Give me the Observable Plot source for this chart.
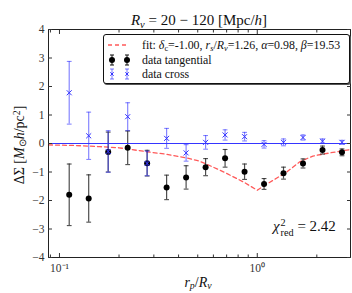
<!DOCTYPE html>
<html><head><meta charset="utf-8">
<script src="https://cdn.jsdelivr.net/npm/d3@7"></script>
<script src="https://cdn.jsdelivr.net/npm/@observablehq/plot@0.6"></script>
<style>
body{margin:0;background:#fff;}
#wrap{position:relative;width:352px;height:293px;font-family:"Liberation Serif",serif;color:#111;}
.ov{position:absolute;white-space:nowrap;line-height:1;}
.ov sub{font-size:70%;vertical-align:-0.25em;line-height:0;}
.ov sup{font-size:70%;vertical-align:0.45em;line-height:0;}
.ss{display:inline-flex;flex-direction:column;font-size:68%;line-height:0.95;vertical-align:middle;margin-left:1px;}
#legend{position:absolute;left:103px;top:34px;width:245px;height:48px;border:1px solid #111;border-radius:3px;background:#fff;box-shadow:1px 1px 0 #555;}
.row{position:absolute;left:0;height:14px;display:flex;align-items:center;font-size:11.9px;white-space:nowrap;}
.row sub{font-size:70%;vertical-align:-0.25em;line-height:0;}
.row svg{margin-right:8px;}
</style></head><body><div id="wrap"></div>
<script>
// radial bins r_p / R_v
const rp = [0.1120, 0.1405, 0.1763, 0.2212, 0.2774, 0.3480, 0.4367, 0.5479, 0.6874, 0.8624, 1.082, 1.357, 1.703, 2.137, 2.681];
// tangential shear profile and errors
const tang    = [-1.80, -1.93, -0.30, -0.15, -0.69, -1.54, -1.19, -0.83, -0.52, -0.99, -1.42, -1.04, -0.70, -0.23, -0.31];
const tangErr = [ 1.08,  0.83,  0.70,  0.59,  0.45,  0.43,  0.41,  0.30,  0.31,  0.27,  0.19,  0.21,  0.16,  0.14,  0.12];
// cross shear profile and errors
const cross    = [1.78, 0.27, -0.28, 0.94, -0.70, 0.18, -0.33, 0.04, 0.30, 0.24, -0.03, 0.04, 0.21, 0.08, 0.04];
const crossErr = [1.10, 0.83,  0.73, 0.49,  0.43, 0.35,  0.29, 0.24, 0.18, 0.15,  0.13, 0.12, 0.09, 0.08, 0.07];
// fitted model curve
const fitX = [0.088, 0.12, 0.16, 0.20, 0.277, 0.35, 0.436, 0.50, 0.548, 0.687, 0.862, 1.00, 1.094, 1.25, 1.41, 1.64, 1.91, 2.33, 2.96];
const fitY = [-0.05, -0.07, -0.11, -0.15, -0.29, -0.38, -0.50, -0.60, -0.71, -1.02, -1.37, -1.64, -1.46, -1.22, -1.00, -0.64, -0.44, -0.33, -0.21];
// axes
const xDomain = [0.088, 2.96];
const yDomain = [-4, 4];
const yTicks = [-4, -3, -2, -1, 0, 1, 2, 3, 4];
const xMajor = [0.1, 1];
const xMinor = [0.09, 0.2, 0.3, 0.4, 0.5, 0.6, 0.7, 0.8, 0.9, 2];
const xTickLabels = ["10\u207B\u00B9", "10\u2070"];

const tData = rp.map((x, i) => ({x, y: tang[i], e: tangErr[i]}));
const cData = rp.map((x, i) => ({x, y: cross[i], e: crossErr[i]}));
const fit = fitX.map((x, i) => ({x, y: fitY[i]}));

const cap = {draw(ctx, size) { const r = Math.sqrt(size / Math.PI); ctx.moveTo(-r, 0); ctx.lineTo(r, 0); }};
const blue = "#3535ff";
const empty = () => "";
const xLabel = d => { const i = xMajor.findIndex(v => Math.abs(v - d) < 1e-9); return i < 0 ? "" : xTickLabels[i]; };

const chart = Plot.plot({
  width: 352, height: 293,
  marginLeft: 48, marginRight: 2, marginTop: 29, marginBottom: 36,
  style: {fontFamily: "Liberation Serif", fontSize: "11.5px", color: "#333", background: "#fff"},
  x: {type: "log", domain: xDomain},
  y: {domain: yDomain},
  marks: [
    Plot.line(fit, {x: "x", y: "y", stroke: "#ff5a5a", strokeWidth: 1.3, strokeDasharray: "4,3"}),
    Plot.ruleX(tData, {x: "x", y1: d => d.y - d.e, y2: d => d.y + d.e, stroke: "#222", strokeOpacity: 0.8, strokeWidth: 1.2}),
    Plot.dot(tData, {x: "x", y: d => d.y - d.e, symbol: cap, r: 2.4, stroke: "#222", strokeOpacity: 0.8, strokeWidth: 1.1}),
    Plot.dot(tData, {x: "x", y: d => d.y + d.e, symbol: cap, r: 2.4, stroke: "#222", strokeOpacity: 0.8, strokeWidth: 1.1}),
    Plot.dot(tData, {x: "x", y: "y", r: 3, fill: "#000"}),
    Plot.ruleY([0], {stroke: blue, strokeWidth: 1.2}),
    Plot.ruleX(cData, {x: "x", y1: d => d.y - d.e, y2: d => d.y + d.e, stroke: blue, strokeOpacity: 0.6, strokeWidth: 1.2}),
    Plot.dot(cData, {x: "x", y: d => d.y - d.e, symbol: cap, r: 2.4, stroke: blue, strokeOpacity: 0.6, strokeWidth: 1.1}),
    Plot.dot(cData, {x: "x", y: d => d.y + d.e, symbol: cap, r: 2.4, stroke: blue, strokeOpacity: 0.6, strokeWidth: 1.1}),
    Plot.dot(cData, {x: "x", y: "y", symbol: "times", r: 2.4, stroke: blue, strokeWidth: 1}),
    Plot.frame({stroke: "#222"}),
    Plot.axisY({ticks: yTicks, anchor: "left", tickSize: 0, tickPadding: 4, tickFormat: d => d < 0 ? "\u2212" + (-d) : String(d), label: null}),
    Plot.axisY({ticks: yTicks, anchor: "left", tickSize: -4, tickFormat: empty, label: null}),
    Plot.axisY({ticks: yTicks, anchor: "right", tickSize: -4, tickFormat: empty, label: null}),
    Plot.axisX({ticks: xMajor, anchor: "bottom", tickSize: 0, tickPadding: 6, tickFormat: xLabel, label: null}),
    Plot.axisX({ticks: xMajor, anchor: "bottom", tickSize: -4, tickFormat: empty, label: null}),
    Plot.axisX({ticks: xMinor, anchor: "bottom", tickSize: -2.5, tickFormat: empty, label: null}),
    Plot.axisX({ticks: xMajor, anchor: "top", tickSize: -4, tickFormat: empty, label: null}),
    Plot.axisX({ticks: xMinor, anchor: "top", tickSize: -2.5, tickFormat: empty, label: null})
  ]
});
const wrap = document.getElementById("wrap");
wrap.appendChild(chart);

function ov(html, style) {
  const d = document.createElement("div");
  d.className = "ov";
  d.innerHTML = html;
  Object.assign(d.style, style);
  wrap.appendChild(d);
  return d;
}
ov('<i>R</i><sub><i>v</i></sub> = 20 \u2212 120 [Mpc/<i>h</i>]', {fontSize: "15px", left: "199px", top: "13px", transform: "translateX(-50%)"});
ov('\u0394\u03A3 [<i>M</i><sub>\u2299</sub><i>h</i>/pc<sup>2</sup>]', {fontSize: "14px", left: "20px", top: "145px", transform: "translate(-50%,-50%) rotate(-90deg)"});
ov('<i>r</i><sub><i>p</i></sub>/<i>R</i><sub><i>v</i></sub>', {fontSize: "14px", left: "198px", top: "276px", transform: "translateX(-50%)"});
ov('<i>\u03C7</i><span class="ss"><span>2</span><span>red</span></span> = 2.42', {fontSize: "15px", left: "273px", top: "218px"});

const lg = document.createElement("div");
lg.id = "legend";
lg.innerHTML = `
<div class="row" style="top:3px;left:4px"><svg width="26" height="10"><line x1="0" y1="5" x2="20" y2="5" stroke="#ff5a5a" stroke-width="1.3" stroke-dasharray="4,3"/></svg><span>fit: <i>\u03B4</i><sub>c</sub>=-1.00, <i>r</i><sub><i>s</i></sub>/<i>R</i><sub><i>v</i></sub>=1.26, <i>\u03B1</i>=0.98, <i>\u03B2</i>=19.53</span></div>
<div class="row" style="top:18px;left:4px"><svg width="26" height="14">
<g stroke="#222" stroke-width="1.1"><line x1="4" y1="2" x2="4" y2="12"/><line x1="2" y1="2" x2="6" y2="2"/><line x1="2" y1="12" x2="6" y2="12"/>
<line x1="19" y1="2" x2="19" y2="12"/><line x1="17" y1="2" x2="21" y2="2"/><line x1="17" y1="12" x2="21" y2="12"/></g>
<circle cx="4" cy="7" r="3" fill="#000"/><circle cx="19" cy="7" r="3" fill="#000"/></svg><span>data tangential</span></div>
<div class="row" style="top:32px;left:4px"><svg width="26" height="14">
<g stroke="${blue}" stroke-width="1.1" stroke-opacity="0.6"><line x1="4" y1="2" x2="4" y2="12"/><line x1="2" y1="2" x2="6" y2="2"/><line x1="2" y1="12" x2="6" y2="12"/>
<line x1="19" y1="2" x2="19" y2="12"/><line x1="17" y1="2" x2="21" y2="2"/><line x1="17" y1="12" x2="21" y2="12"/></g>
<g stroke="${blue}" stroke-width="1"><path d="M2.3,5.3L5.7,8.7M5.7,5.3L2.3,8.7"/><path d="M17.3,5.3L20.7,8.7M20.7,5.3L17.3,8.7"/></g></svg><span>data cross</span></div>`;
wrap.appendChild(lg);
</script></body></html>
